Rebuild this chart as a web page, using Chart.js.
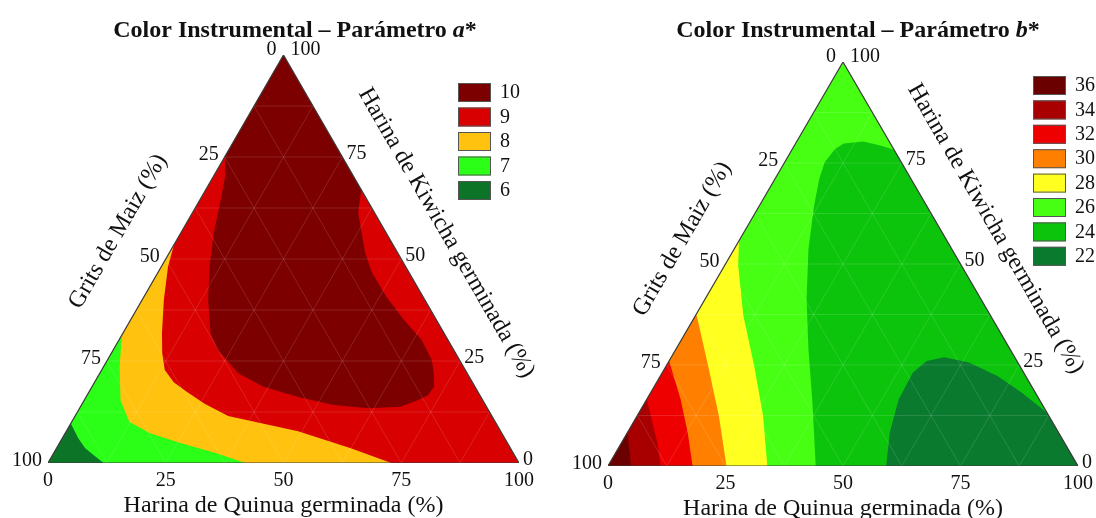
<!DOCTYPE html>
<html>
<head>
<meta charset="utf-8">
<script src="https://cdn.jsdelivr.net/npm/chart.js@4.4.0/dist/chart.umd.min.js"></script>
<style>
  html, body { margin: 0; padding: 0; background: #fff; }
  #wrap { position: relative; width: 1096px; height: 518px; }
  canvas { position: absolute; top: 0; }
  #chartA { left: 0; }
  #chartB { left: 548px; }
</style>
</head>
<body>
<div id="wrap">
  <canvas id="chartA" width="548" height="518"></canvas>
  <canvas id="chartB" width="548" height="518"></canvas>
</div>
<script>
// ternary axes: Quinua (bottom), Kiwicha (apex), Maiz = 100 - Quinua - Kiwicha
const axisTicks = [0, 25, 50, 75, 100];
const gridSteps = [12.5, 25, 37.5, 50, 62.5, 75, 87.5];

// Parametro a* -- contour limits as [Quinua %, Kiwicha %]
const aLevels = ['10', '9', '8', '7', '6'];
const aColors = ['#7c0000', '#d80000', '#ffc20e', '#2bff17', '#0c7427'];
const aZone10 = [[0, 100], [33, 67], [35.2, 61.3], [38.4, 56.4], [41.6, 51.5], [45.5, 46.6], [51.4, 40.8],
  [58, 35.1], [64.2, 30.2], [68.9, 25.2], [70.9, 22], [72.6, 18.7], [72.4, 16.6], [70.8, 15.4], [67.9, 13.8],
  [61.4, 13.4], [53.5, 14.2], [45, 16.2], [36.4, 18.7], [29.4, 22], [22.2, 27.7], [18.6, 31.8], [14, 40],
  [10.2, 48.2], [7, 56.4], [4.4, 64.6], [2.2, 71.1], [0, 75.2]];
const aLine8 = [[0, 53.5], [1.4, 48.2], [4.6, 40], [8.3, 31.8], [10.8, 26.9], [13.4, 22.8], [16.8, 19.8],
  [20.5, 17.6], [26, 14.5], [32.5, 11.5], [41, 9.6], [49.2, 7.8], [62.5, 3.6], [72.9, 0]];
const aLine7 = [[0, 31.4], [3.4, 23.6], [7.7, 15.4], [12.2, 10.1], [18.2, 7.2], [26.1, 4.8], [34.8, 2.3], [41.9, 0]];
const aLine6 = [[0, 9.7], [3.4, 6.05], [6.1, 3.6], [8.6, 2], [11.8, 0]];

// Parametro b*
const bLevels = ['36', '34', '32', '30', '28', '26', '24', '22'];
const bColors = ['#6b0000', '#a80000', '#ee0000', '#ff8000', '#ffff20', '#46ff12', '#0cc40c', '#0a7a2e'];
const bLine28 = [[0, 55.8], [2.9, 49.6], [10.2, 37.2], [18.7, 24.8], [26.8, 12.4], [33.9, 0]];
const bLine30 = [[0, 37.6], [8.9, 24.8], [17.4, 12.4], [25.2, 0]];
const bLine32 = [[0, 26], [7.2, 16.5], [12.8, 8.3], [18, 0]];
const bLine34 = [[0, 16.5], [4.1, 10.7], [7.6, 5.8], [11.2, 0]];
const bLine36 = [[0, 8.3], [4.9, 0]];
const bZone24 = [[44.2, 0], [35.2, 16.5], [28.2, 28.9], [21.6, 41.3], [15.8, 53.7], [11.6, 64.5], [9.4, 71.1],
  [8.5, 75.2], [9.1, 78.5], [10.3, 79.8], [14.2, 80.3], [18.5, 79.3], [21.7, 78.3], [100, 0]];
const bZone22 = [[59.2, 0], [55.8, 8.3], [53.6, 16.5], [53.3, 23.1], [54.8, 26], [58.1, 26.9], [64, 25.6],
  [71.7, 22.3], [78.9, 18.2], [86.8, 13.2], [100, 0]];

const H = Math.sqrt(3) / 2;
function toXY(q, k) {
  return { x: q + k / 2, y: k * H };
}

function polygon(pts, color) {
  const data = pts.map(p => toXY(p[0], p[1]));
  data.push(data[0]);
  return {
    data: data, showLine: true, fill: 'shape', tension: 0,
    backgroundColor: color, borderColor: color, borderWidth: 0, pointRadius: 0
  };
}

function lineSet(pts, color, width) {
  return {
    data: pts.map(p => toXY(p[0], p[1])), showLine: true, fill: false, tension: 0,
    borderColor: color, borderWidth: width, pointRadius: 0
  };
}

function frameSets() {
  const sets = [];
  const grid = 'rgba(255,255,255,0.13)';
  gridSteps.forEach(v => {
    sets.push(lineSet([[0, v], [100 - v, v]], grid, 1));
    sets.push(lineSet([[v, 0], [v, 100 - v]], grid, 1));
    sets.push(lineSet([[100 - v, 0], [0, 100 - v]], grid, 1));
  });
  sets.push(lineSet([[0, 0], [100, 0], [0, 100], [0, 0]], '#3c3c3c', 1.2));
  return sets;
}

function textPlugin(cfg) {
  return {
    id: 'ternaryText',
    afterDraw(chart) {
      const ctx = chart.ctx;
      const sx = chart.scales.x, sy = chart.scales.y;
      const P = (q, k) => { const p = toXY(q, k); return { x: sx.getPixelForValue(p.x), y: sy.getPixelForValue(p.y) }; };
      ctx.save();
      ctx.fillStyle = '#111';

      // title
      const parts = [
        ['bold 24px "Liberation Serif"', 'Color Instrumental \u2013 Par\u00e1metro '],
        ['italic bold 24px "Liberation Serif"', cfg.param],
        ['bold 24px "Liberation Serif"', '*']
      ];
      let total = 0;
      parts.forEach(p => { ctx.font = p[0]; total += ctx.measureText(p[1]).width; });
      let tx = cfg.titleX - total / 2;
      ctx.textBaseline = 'alphabetic';
      ctx.textAlign = 'left';
      parts.forEach(p => { ctx.font = p[0]; ctx.fillText(p[1], tx, 37); tx += ctx.measureText(p[1]).width; });

      // tick labels
      ctx.font = '20px "Liberation Serif"';
      ctx.textBaseline = 'middle';
      axisTicks.forEach(v => {
        let p = P(v, 0);
        ctx.textAlign = 'center';
        ctx.fillText(String(v), p.x, p.y + 18);
        // Maiz (left side)
        p = P(0, 100 - v);
        ctx.textAlign = 'right';
        if (v === 0) ctx.fillText('0', p.x - 7, p.y - 5);
        else ctx.fillText(String(v), p.x - 6, p.y - 2);
        // Kiwicha (right side)
        p = P(100 - v, v);
        ctx.textAlign = 'left';
        if (v === 100) ctx.fillText('100', p.x + 7, p.y - 5);
        else ctx.fillText(String(v), p.x + 4, p.y - 3);
      });

      // axis titles
      ctx.font = '24px "Liberation Serif"';
      ctx.textAlign = 'center';
      const bl = P(0, 0), br = P(100, 0), ap = P(0, 100);
      ctx.fillText('Harina de Quinua germinada (%)', (bl.x + br.x) / 2, bl.y + 43);
      let mx = (bl.x + ap.x) / 2 - 0.866 * cfg.maizOff, my = (bl.y + ap.y) / 2 - 0.5 * cfg.maizOff;
      ctx.save(); ctx.translate(mx, my); ctx.rotate(-Math.PI / 3);
      ctx.fillText('Grits de Maiz (%)', 0, 0); ctx.restore();
      mx = (br.x + ap.x) / 2 + 0.866 * cfg.kiwOff - 0.5 * cfg.kiwShift;
      my = (br.y + ap.y) / 2 - 0.5 * cfg.kiwOff - 0.866 * cfg.kiwShift;
      ctx.save(); ctx.translate(mx, my); ctx.rotate(Math.PI / 3);
      ctx.fillText('Harina de Kiwicha germinada (%)', 0, 0); ctx.restore();

      // legend
      ctx.font = '20px "Liberation Serif"';
      ctx.textAlign = 'left';
      cfg.levels.forEach((lab, i) => {
        const y = cfg.legY + i * cfg.legStep;
        ctx.fillStyle = cfg.colors[i];
        ctx.fillRect(cfg.legX, y, 33, 19);
        ctx.strokeStyle = '#555';
        ctx.lineWidth = 1;
        ctx.strokeRect(cfg.legX + 0.5, y + 0.5, 32, 18);
        ctx.fillStyle = '#111';
        ctx.fillText(lab, cfg.legX + 42, y + 10);
      });
      ctx.restore();
    }
  };
}

function makeChart(id, layers, pad, cfg) {
  const sets = layers.concat(frameSets());
  sets.reverse(); // first dataset is drawn last
  return new Chart(document.getElementById(id), {
    type: 'scatter',
    data: { datasets: sets },
    options: {
      responsive: false,
      animation: false,
      events: [],
      layout: { padding: pad },
      scales: {
        x: { type: 'linear', min: 0, max: 100, display: false },
        y: { type: 'linear', min: 0, max: 100 * H, display: false }
      },
      plugins: { legend: { display: false }, tooltip: { enabled: false } }
    },
    plugins: [textPlugin(cfg)]
  });
}

const triangle = [[0, 0], [100, 0], [0, 100]];

makeChart('chartA', [
  polygon(triangle, aColors[1]),
  polygon(aZone10, aColors[0]),
  polygon(aLine8.concat([[0, 0]]), aColors[2]),
  polygon(aLine7.concat([[0, 0]]), aColors[3]),
  polygon(aLine6.concat([[0, 0]]), aColors[4])
], { left: 48, right: 29, top: 55, bottom: 55 }, {
  param: 'a', titleX: 295, maizOff: 55, kiwOff: 52, kiwShift: 0,
  levels: aLevels, colors: aColors, legX: 458, legY: 83, legStep: 24.5
});

makeChart('chartB', [
  polygon(triangle, bColors[5]),
  polygon(bZone24, bColors[6]),
  polygon(bZone22, bColors[7]),
  polygon(bLine28.concat([[0, 0]]), bColors[4]),
  polygon(bLine30.concat([[0, 0]]), bColors[3]),
  polygon(bLine32.concat([[0, 0]]), bColors[2]),
  polygon(bLine34.concat([[0, 0]]), bColors[1]),
  polygon(bLine36.concat([[0, 0]]), bColors[0])
], { left: 60, right: 18, top: 62, bottom: 52 }, {
  param: 'b', titleX: 310, maizOff: 50, kiwOff: 48, kiwShift: 13,
  levels: bLevels, colors: bColors, legX: 485, legY: 76, legStep: 24.4
});
</script>
</body>
</html>
